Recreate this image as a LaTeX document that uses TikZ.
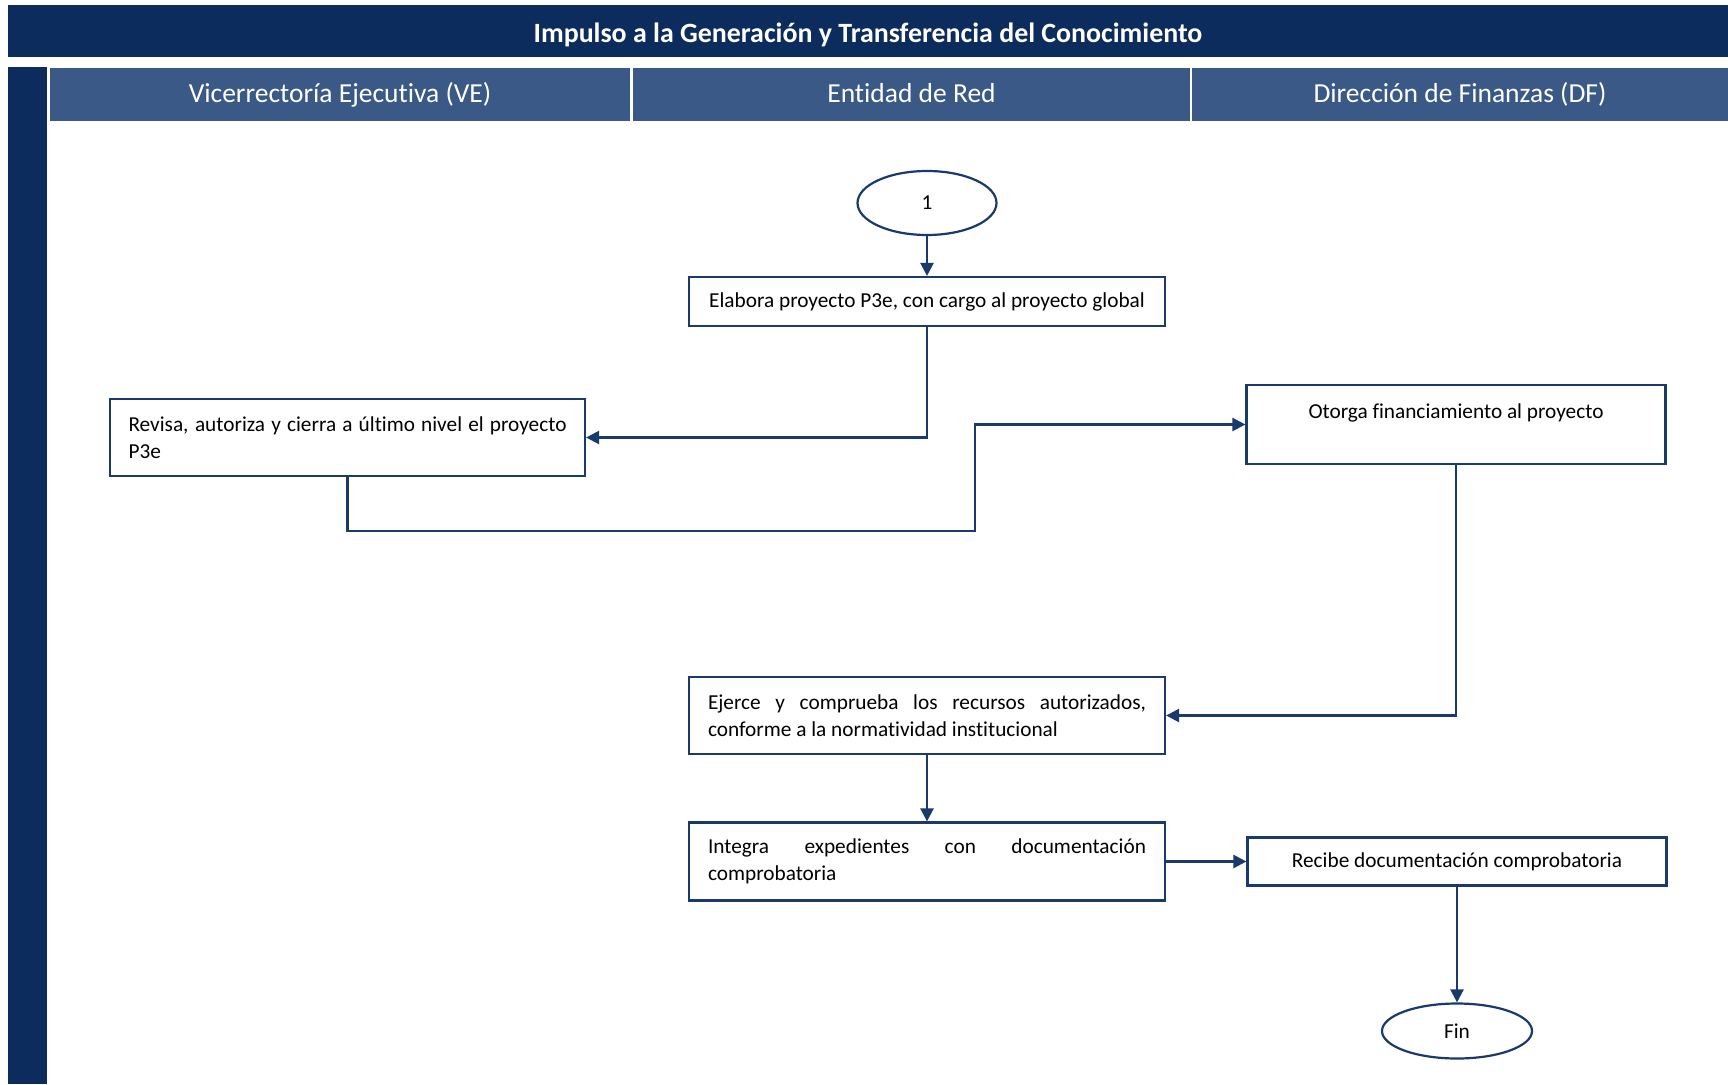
\documentclass[tikz,border=0pt]{standalone}
\usepackage{fontspec}
\setmainfont{Carlito}[Ligatures={NoCommon}]
\usetikzlibrary{arrows.meta,shapes.geometric}
\definecolor{navy}{HTML}{0D2C5E}
\definecolor{lanehead}{HTML}{3A5987}
\definecolor{linec}{HTML}{1B3A6C}
\newcommand{\boxfont}{\fontsize{21.3}{27.5}\selectfont}
\tikzset{
  bar/.style={fill=navy,draw=none},
  headcell/.style={fill=lanehead,draw=none,text=white,font=\fontsize{27.5}{32}\selectfont,
    inner sep=0pt,text height=23pt,text depth=6pt},
  task/.style={draw=linec,line width=2.2pt,fill=white,font=\boxfont,inner sep=0pt},
  term/.style={draw=linec,line width=2.2pt,ellipse,fill=white,font=\boxfont,inner sep=0pt},
  flow/.style={draw=linec,line width=2.4pt,-{Triangle[length=13pt,width=13pt]}}
}
\begin{document}
\begin{tikzpicture}[x=1pt,y=-1pt]
\useasboundingbox[fill=white] (0,0) rectangle (1728,1084);
% title band and left lane band
\path[bar] (8,5) rectangle (1728,57);
\node[text=white,font=\bfseries\fontsize{27.9}{32}\selectfont,text height=25pt,text depth=6pt,inner sep=0pt]
  (title) at (868,33) {Impulso a la Generación y Transferencia del Conocimiento};
\path[bar] (8,67) rectangle (47,1084);
% lane headers
\node[headcell,minimum width=580pt,minimum height=53pt] (h1) at (340,94) {Vicerrectoría Ejecutiva (VE)};
\node[headcell,minimum width=557pt,minimum height=53pt] (h2) at (911.5,94) {Entidad de Red};
\node[headcell,minimum width=536pt,minimum height=53pt] (h3) at (1460,94) {Dirección de Finanzas (DF)};

% process nodes
\node[term,minimum width=139pt,minimum height=64pt] (start) at (927,203) {1};
\node[task,minimum width=476pt,minimum height=49pt] (elabora) at (927,301.5) {Elabora proyecto P3e, con cargo al proyecto global};
\node[task,minimum width=475pt,minimum height=77pt] (revisa) at (347.5,437.5)
  {\parbox{438pt}{\boxfont Revisa, autoriza y cierra a último nivel el proyecto\linebreak P3e}};
\node[task,minimum width=419pt,minimum height=79pt] (otorga) at (1456,424.5)
  {\parbox{400pt}{\centering\boxfont Otorga financiamiento al proyecto\\ \mbox{}}};
\node[task,minimum width=476pt,minimum height=77pt] (ejerce) at (927,715.5)
  {\parbox{438pt}{\boxfont Ejerce y comprueba los recursos autorizados,\linebreak conforme a la normatividad institucional}};
\node[task,minimum width=476pt,minimum height=78pt] (integra) at (927,861.5)
  {\parbox{438pt}{\boxfont Integra expedientes con documentación\linebreak comprobatoria}};
\node[task,minimum width=419pt,minimum height=48pt] (recibe) at (1457,861.5) {Recibe documentación comprobatoria};
\node[term,minimum width=150pt,minimum height=55pt] (fin) at (1457,1031) {Fin};

% connectors
\draw[flow] (start) -- (elabora);
\draw[flow] (elabora.south) |- (revisa.east);
\draw[flow] (revisa.south) -- ++(0,54) -| (975,424.5) -- (otorga.west);
\draw[flow] (otorga.south) |- (ejerce.east);
\draw[flow] (ejerce) -- (integra);
\draw[flow] (integra.east) -- (recibe.west);
\draw[flow] (recibe.south) -- (fin.north);
\end{tikzpicture}
\end{document}
